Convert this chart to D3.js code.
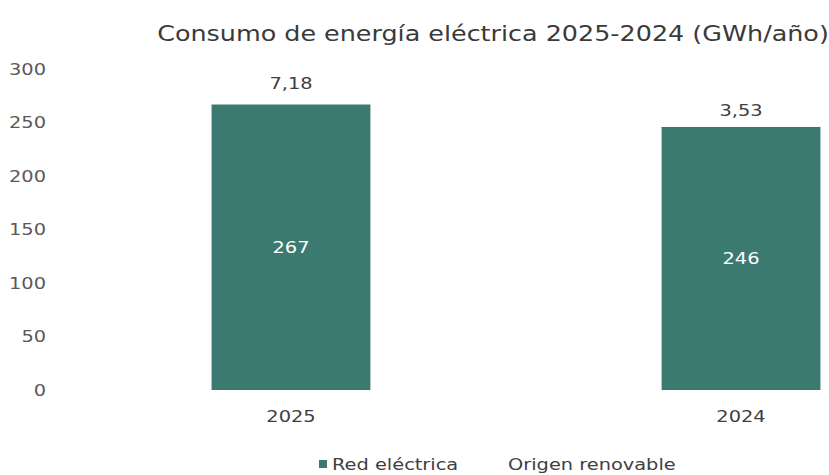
<!DOCTYPE html>
<html><head><meta charset="utf-8">
<script src="https://cdn.jsdelivr.net/npm/d3@7"></script>
<style>body{margin:0;background:#fff}svg{display:block;font-family:"DejaVu Sans",Verdana,sans-serif}</style>
</head><body><svg id="c" width="829" height="475"></svg>
<script>
const categories = ["2025", "2024"];
const redElectrica = [267, 246];
const origenRenovable = [7.18, 3.53];
const redLabels = ["267", "246"];
const renovLabels = ["7,18", "3,53"];
const yTicks = [0, 50, 100, 150, 200, 250, 300];
const seriesNames = ["Red eléctrica", "Origen renovable"];

const svg = d3.select("#c");
const y = d3.scaleLinear().domain([0, 300]).range([390, 69]);
const x = d3.scaleBand().domain(categories).range([66, 966]).paddingInner(0.647).paddingOuter(0.3235);

svg.append("text").attr("x", 493).attr("y", 41).attr("text-anchor", "middle")
  .attr("font-size", 21).attr("fill", "#3a3a3a").text("Consumo de energía eléctrica 2025-2024 (GWh/año)");

const yAxis = svg.append("g").attr("transform", "translate(46,0)")
  .call(d3.axisLeft(y).tickValues(yTicks).tickSize(0).tickPadding(0));
yAxis.select(".domain").remove();
yAxis.selectAll("text").attr("font-size", 16).attr("fill", "#595959").attr("font-family", "DejaVu Sans, Verdana, sans-serif");

const xAxis = svg.append("g").attr("transform", "translate(0,402)")
  .call(d3.axisBottom(x).tickSize(0).tickPadding(9));
xAxis.select(".domain").remove();
xAxis.selectAll("text").attr("font-size", 16).attr("fill", "#404040").attr("font-family", "DejaVu Sans, Verdana, sans-serif");

const data = categories.map((c, i) => ({c, red: redElectrica[i], ren: origenRenovable[i], rl: redLabels[i], nl: renovLabels[i]}));

svg.selectAll("rect.red").data(data).join("rect").attr("class", "red")
  .attr("x", d => x(d.c)).attr("width", x.bandwidth())
  .attr("y", d => y(d.red)).attr("height", d => y(0) - y(d.red))
  .attr("fill", "#3b7a70");
svg.selectAll("rect.ren").data(data).join("rect").attr("class", "ren")
  .attr("x", d => x(d.c)).attr("width", x.bandwidth())
  .attr("y", d => y(d.red + d.ren)).attr("height", d => y(d.red) - y(d.red + d.ren))
  .attr("fill", "#ffffff");

svg.selectAll("text.rl").data(data).join("text").attr("class", "rl")
  .attr("x", d => x(d.c) + x.bandwidth() / 2).attr("y", d => y(d.red / 2) + 6)
  .attr("text-anchor", "middle").attr("font-size", 16).attr("fill", "#ffffff").text(d => d.rl);
svg.selectAll("text.nl").data(data).join("text").attr("class", "nl")
  .attr("x", d => x(d.c) + x.bandwidth() / 2).attr("y", d => y(d.red + d.ren) - 7.5)
  .attr("text-anchor", "middle").attr("font-size", 16).attr("fill", "#404040").text(d => d.nl);

const leg = svg.append("g");
leg.append("rect").attr("x", 319).attr("y", 460).attr("width", 8).attr("height", 8).attr("fill", "#3b7a70");
leg.append("text").attr("x", 332).attr("y", 470).attr("font-size", 16).attr("fill", "#404040").text(seriesNames[0]);
leg.append("rect").attr("x", 494).attr("y", 460).attr("width", 8).attr("height", 8).attr("fill", "#ffffff");
leg.append("text").attr("x", 508).attr("y", 470).attr("font-size", 16).attr("fill", "#404040").text(seriesNames[1]);

// widen glyphs horizontally to match the reference lettering
svg.selectAll("text").each(function() {
  const w = this.getComputedTextLength();
  this.setAttribute("textLength", (w * 1.21).toFixed(1));
  this.setAttribute("lengthAdjust", "spacingAndGlyphs");
});
</script></body></html>
